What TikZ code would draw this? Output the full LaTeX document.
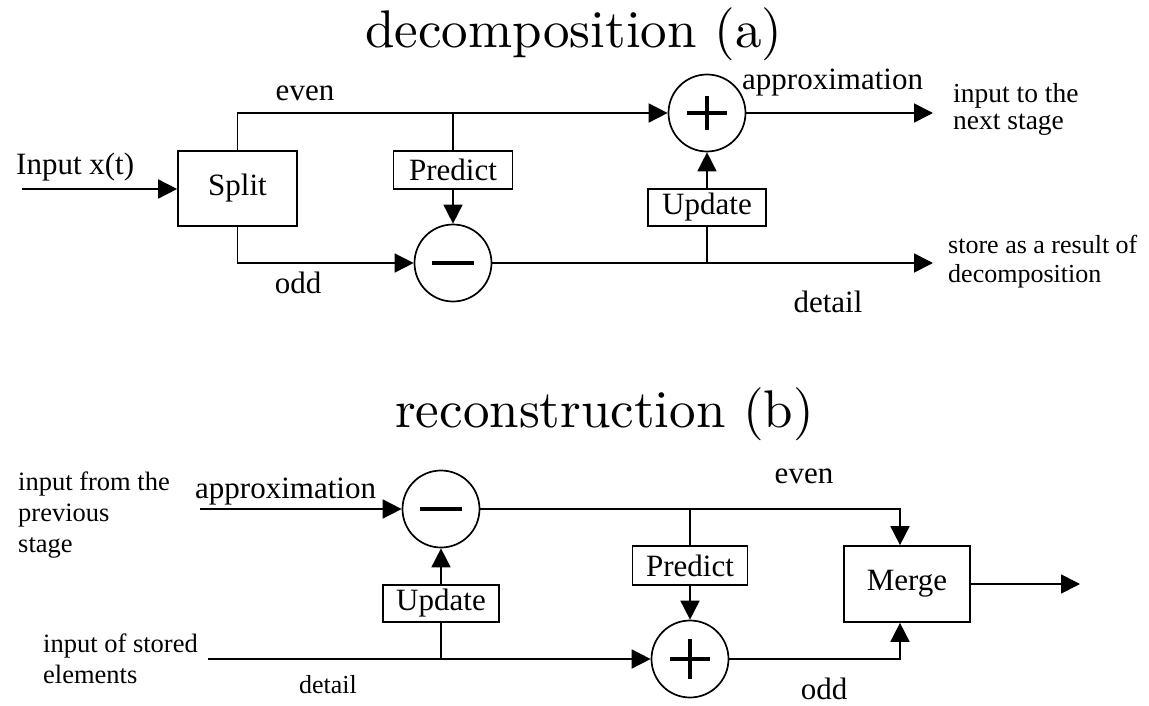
\documentclass[tikz,border=0pt]{standalone}
\usepackage{fontspec}
\setmainfont{Liberation Serif}
\newfontfamily\titlefont{lmroman10-regular.otf}
\usetikzlibrary{arrows.meta,calc}
\begin{document}
\begin{tikzpicture}[x=1pt,y=-1pt,
  line/.style={line width=1.7pt},
  arr/.style={line width=1.7pt,-{Triangle[length=19pt,width=19pt]}},
  blk/.style={draw,line width=1.7pt,rectangle,inner sep=0pt,font=\fontsize{31}{36}\selectfont},
  op/.style={draw,line width=1.7pt,circle,minimum size=77pt,inner sep=0pt},
  lbl/.style={inner sep=0pt,font=\fontsize{31}{36}\selectfont},
  note/.style={inner sep=0pt,font=\fontsize{26}{30}\selectfont,align=left},
  ttl/.style={inner sep=0pt,font=\titlefont\fontsize{53}{60}\selectfont},
  sign/.style={line width=3.4pt}]
\useasboundingbox (0,0) rectangle (1149,706);

% ---------- decomposition ----------
\node[ttl,anchor=base west] (t1) at (365,48) {decomposition (a)};
\node[blk,minimum width=119pt,minimum height=75pt] (split) at (237.5,188.5) {Split};
\node[blk,minimum width=119pt,minimum height=38pt] (predT) at (453,170) {Predict};
\node[op] (minusT) at (453,263) {};
\node[op] (plusT) at (707,113) {};
\node[blk,minimum width=118pt,minimum height=37pt] (updT) at (707,207.5) {Update};
\coordinate (inT) at (22,189);
\coordinate (apOut) at (933,113);
\coordinate (detOut) at (933,263);

\draw[sign] ($(minusT)+(-21,0)$) -- ($(minusT)+(21,0)$);
\draw[sign] ($(plusT)+(-20,0)$) -- ($(plusT)+(20,0)$)
            ($(plusT)+(0,-17)$) -- ($(plusT)+(0,17)$);

\draw[arr] (inT) -- (split.west |- inT);
\draw[arr] (split.north) |- (plusT.west);
\draw[arr] (split.south) |- (minusT.west);
\draw[line] (predT.north |- plusT.west) -- (predT.north);
\draw[arr] (predT.south) -- (minusT.north);
\draw[arr] (minusT.east) -- (detOut);
\draw[line] (updT.south |- minusT.east) -- (updT.south);
\draw[arr] (updT.north) -- (plusT.south);
\draw[arr] (plusT.east) -- (apOut);

\node[lbl,anchor=base west] (inlbl) at (16,175) {Input x(t)};
\node[lbl,anchor=base] (evenT) at (305,101) {even};
\node[lbl,anchor=base] (oddT) at (298,293) {odd};
\node[lbl,anchor=base west] (apT) at (742,90) {approximation};
\node[lbl,anchor=base] (detT) at (828,312) {detail};
\node[note,anchor=base west,font=\fontsize{27.5}{27}\selectfont] (nextT) at (953,130) {input to the\\next stage};
\node[note,anchor=base west,font=\fontsize{26}{29}\selectfont] (storeT) at (948,282) {store as a result of\\decomposition};

% ---------- reconstruction ----------
\node[ttl,anchor=base west] (t2) at (395,427) {reconstruction (b)};
\node[op] (minusB) at (441,509) {};
\node[blk,minimum width=116pt,minimum height=37pt] (updB) at (441,603.5) {Update};
\node[blk,minimum width=115pt,minimum height=39pt] (predB) at (690,565.5) {Predict};
\node[op] (plusB) at (690,659) {};
\node[blk,minimum width=126pt,minimum height=76pt] (merge) at (907,584) {Merge};
\coordinate (inB) at (200,509);
\coordinate (detIn) at (208,659);
\coordinate (outB) at (1080,584);

\draw[sign] ($(minusB)+(-21,0)$) -- ($(minusB)+(21,0)$);
\draw[sign] ($(plusB)+(-20,0)$) -- ($(plusB)+(20,0)$)
            ($(plusB)+(0,-20)$) -- ($(plusB)+(0,20)$);

\draw[arr] (inB) -- (minusB.west);
\draw[arr] (minusB.east) -| ($(merge.north)+(-7,0)$);
\draw[line] (predB.north |- minusB.east) -- (predB.north);
\draw[arr] (predB.south) -- (plusB.north);
\draw[arr] (plusB.east) -| ($(merge.south)+(-7,0)$);
\draw[arr] (merge.east) -- (outB);
\draw[arr] (detIn) -- (plusB.west);
\draw[line] (updB.south |- plusB.west) -- (updB.south);
\draw[arr] (updB.north) -- (minusB.south);

\node[note,anchor=base west,font=\fontsize{26.5}{31}\selectfont] (prevT) at (18,552) {input from the\\previous\\stage};
\node[lbl,anchor=base west] (apB) at (195,498) {approximation};
\node[note,anchor=base west,font=\fontsize{26.5}{31}\selectfont] (storedT) at (43,683) {input of stored\\elements};
\node[note,anchor=base] (detB) at (328,693) {detail};
\node[lbl,anchor=base] (evenB) at (804,483) {even};
\node[lbl,anchor=base] (oddB) at (824,699) {odd};
\end{tikzpicture}
\end{document}
